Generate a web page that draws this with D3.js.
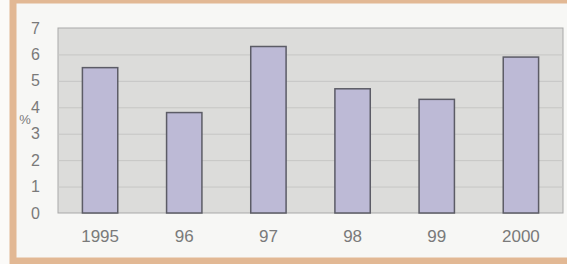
<!DOCTYPE html>
<html>
<head>
<meta charset="utf-8">
<script src="https://cdn.jsdelivr.net/npm/d3@7"></script>
<style>
  body { margin: 0; background: #fbfaf8; }
</style>
</head>
<body>
<div id="canvas"></div>
<script>
var years = ["1995", "96", "97", "98", "99", "2000"];
var values = [5.5, 3.8, 6.3, 4.7, 4.3, 5.9];
var yTicks = [0, 1, 2, 3, 4, 5, 6, 7];

var width = 567, height = 264;
var plotLeft = 58, plotRight = 563, plotTop = 28, plotBottom = 213;

var svg = d3.select("#canvas").append("svg")
    .attr("width", width)
    .attr("height", height)
    .style("display", "block");

// frame
svg.append("rect")
    .attr("x", 0).attr("y", 0)
    .attr("width", width).attr("height", height)
    .attr("fill", "#fbfaf8");
svg.append("rect")
    .attr("x", 13).attr("y", 0)
    .attr("width", 562).attr("height", 261)
    .attr("fill", "#f7f7f5")
    .attr("stroke", "#e2b894")
    .attr("stroke-width", 7);

var x = d3.scaleBand()
    .domain(years)
    .range([plotLeft, plotRight])
    .paddingInner(0.58)
    .paddingOuter(0.29);

var y = d3.scaleLinear()
    .domain([0, 7])
    .range([plotBottom, plotTop]);

// plot area
svg.append("rect")
    .attr("x", plotLeft).attr("y", plotTop)
    .attr("width", plotRight - plotLeft).attr("height", plotBottom - plotTop)
    .attr("fill", "#dcdcda")
    .attr("stroke", "#a9a9a9")
    .attr("stroke-width", 1);

svg.append("g")
    .selectAll("line")
    .data(yTicks.slice(1, -1))
    .enter()
    .append("line")
    .attr("x1", plotLeft).attr("x2", plotRight)
    .attr("y1", d => y(d) + 0.5).attr("y2", d => y(d) + 0.5)
    .attr("stroke", "#c6c6c4")
    .attr("stroke-width", 1);

svg.append("g")
    .selectAll("rect")
    .data(values)
    .enter()
    .append("rect")
    .attr("x", (d, i) => x(years[i]))
    .attr("y", d => y(d))
    .attr("width", x.bandwidth())
    .attr("height", d => plotBottom - y(d))
    .attr("fill", "#bdbad6")
    .attr("stroke", "#5c5c66")
    .attr("stroke-width", 1.5);

// axes
var yAxis = svg.append("g")
    .attr("transform", "translate(" + (plotLeft - 18) + ",0)")
    .call(d3.axisLeft(y).tickValues(yTicks).tickFormat(d3.format("d")).tickSize(0).tickPadding(0));
yAxis.select(".domain").remove();
yAxis.selectAll("text")
    .attr("font-family", "Liberation Sans, Arial, sans-serif")
    .attr("font-size", 16)
    .attr("fill", "#7a7a7a");

var xAxis = svg.append("g")
    .attr("transform", "translate(0," + plotBottom + ")")
    .call(d3.axisBottom(x).tickSize(0).tickPadding(17));
xAxis.select(".domain").remove();
xAxis.selectAll("text")
    .attr("font-family", "Liberation Sans, Arial, sans-serif")
    .attr("font-size", 17)
    .attr("fill", "#7a7a7a");

svg.append("text")
    .attr("x", 25)
    .attr("y", 124)
    .attr("text-anchor", "middle")
    .attr("font-family", "Liberation Sans, Arial, sans-serif")
    .attr("font-size", 13)
    .attr("fill", "#7a7a7a")
    .text("%");
</script>
</body>
</html>
